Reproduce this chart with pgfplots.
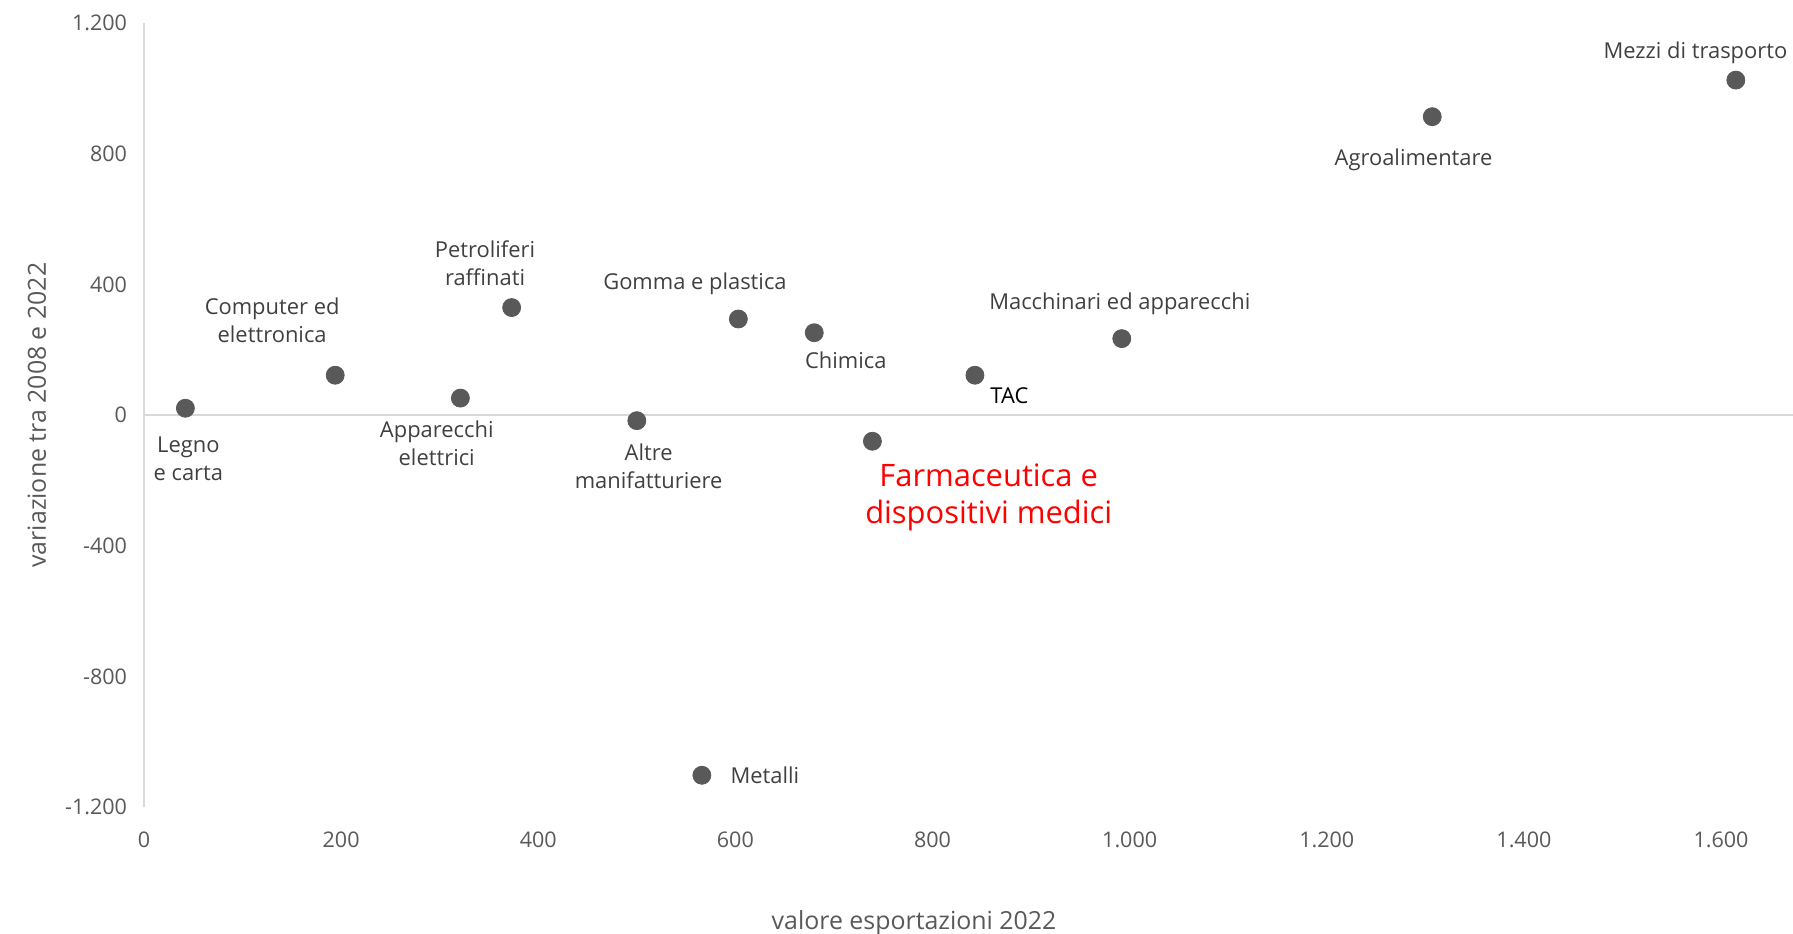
\documentclass[border=0pt]{standalone}
\usepackage{fontspec}
\setmainfont{Open Sans}
\usepackage{pgfplots}
\pgfplotsset{compat=1.18}

\definecolor{dotgray}{HTML}{595959}
\definecolor{txtgray}{HTML}{404040}
\definecolor{linegray}{HTML}{D9D9D9}

\begin{document}
\begin{tikzpicture}
\begin{axis}[
  scale only axis, width=824.5bp, height=392.2bp,
  xmin=0, xmax=1673, ymin=-1200, ymax=1200,
  xtick={0,200,...,1600}, ytick={-1200,-800,...,1200},
  axis line style={draw=none}, major tick length=0pt,
  /pgf/number format/assume math mode=true,
  /pgf/number format/1000 sep={.},
  tick label style={font=\fontsize{10.8}{12}\selectfont, text=dotgray},
  xticklabel style={yshift=-9bp},
  yticklabel style={xshift=-5bp},
  xlabel={valore esportazioni 2022},
  ylabel={variazione tra 2008 e 2022},
  label style={font=\fontsize{12.5}{14}\selectfont, text=dotgray},
  xlabel style={at={(axis description cs:0.467,-0.147)}, anchor=center},
  ylabel style={at={(axis description cs:-0.065,0.5)}, anchor=center, rotate=0},
  clip=false,
]
\draw[linegray, line width=1bp] (axis cs:0,-1200) -- (axis cs:0,1200);
\draw[linegray, line width=1bp] (axis cs:0,0) -- (axis cs:1673,0);
\addplot[only marks, mark=*, mark size=4.5bp, color=dotgray] coordinates {
(42,21) (194,122) (321,52) (373,329) (500,-17) (566,-1102)
(603,294) (680,252) (739,-80) (843,122) (992,234) (1307,913) (1615,1025)
};
\begin{scope}[every node/.style={font=\fontsize{11}{14.3}\selectfont, text=txtgray, align=center}]
\node at (axis cs:45,-133) {Legno\\e carta};
\node at (axis cs:130,290) {Computer ed\\elettronica};
\node at (axis cs:346,465) {Petroliferi\\raffinati};
\node at (axis cs:297,-87) {Apparecchi\\elettrici};
\node at (axis cs:559,402) {Gomma e plastica};
\node at (axis cs:512,-157) {Altre\\manifatturiere};
\node at (axis cs:712,168) {Chimica};
\node[text=black] at (axis cs:878,59) {TAC};
\node at (axis cs:990,339) {Macchinari ed apparecchi};
\node at (axis cs:1288,780) {Agroalimentare};
\node at (axis cs:1574,1109) {Mezzi di trasporto};
\node[anchor=west] at (axis cs:588,-1102) {Metalli};
\end{scope}
\node[font=\fontsize{15.5}{18.3}\selectfont, text=red, align=center] at (axis cs:857,-252) {Farmaceutica e\\dispositivi medici};
\end{axis}
\pgfresetboundingbox
\path[use as bounding box] (-72bp,-63.35bp) rectangle (824.5bp,403.65bp);
\end{tikzpicture}
\end{document}
